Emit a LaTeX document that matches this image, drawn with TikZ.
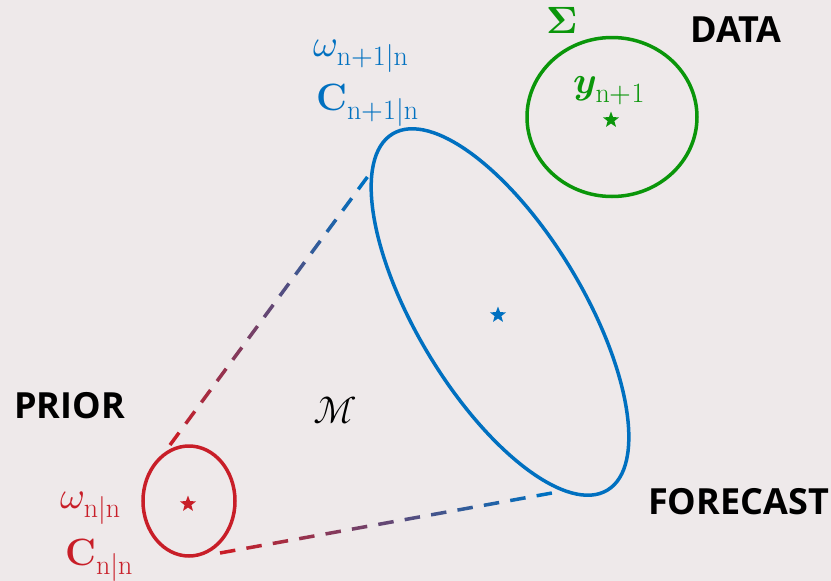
\documentclass[tikz,border=0pt]{standalone}
\usepackage{amsmath}
\usepackage{fontspec}
\usepackage{unicode-math}
\setmathfont{Latin Modern Math}
\DeclareMathSizes{38}{38}{28}{21}
\newfontfamily\headfont{Open Sans}
\usetikzlibrary{shapes.geometric,calc}

\definecolor{bgcol}{RGB}{238,233,234}
\definecolor{priorred}{RGB}{200,30,40}
\definecolor{fcblue}{RGB}{0,112,192}
\definecolor{datagreen}{RGB}{10,150,10}

\tikzset{
  region/.style = {draw, ellipse, line width=3.5pt, inner sep=0pt},
  centre/.style = {star, star points=5, star point ratio=2.4, fill, inner sep=0pt, minimum size=17pt},
  head/.style   = {font=\headfont\bfseries\fontsize{36}{40}\selectfont, anchor=base west, inner sep=0pt},
  mlabel/.style = {font=\fontsize{38}{42}\selectfont, anchor=base west, inner sep=0pt},
  dashline/.style = {line width=3.5pt}
}

\begin{document}
\begin{tikzpicture}[x=1pt,y=-1pt]
      \fill[bgcol] (0,0) rectangle (831,581);
      \useasboundingbox (0,0) rectangle (831,581);

      % Regions
      \node[region, priorred, minimum width=92pt, minimum height=110pt] (prior) at (189,501) {};
      \node[region, fcblue, minimum width=416pt, minimum height=166pt, rotate=-58.9] (forecast) at (500,312) {};
      \node[region, datagreen, minimum width=170pt, minimum height=159pt] (data) at (612,117) {};

      % Centres
      \node[centre, priorred] (priorstar) at (188,504) {};
      \node[centre, fcblue] (fcstar) at (498,315) {};
      \node[centre, datagreen] (datastar) at (611,120) {};

      % Labels
      \node[head] (priorlab) at (14,418) {PRIOR};
      \node[head] (datalab) at (690,42) {DATA};
      \node[head] (fclab) at (648,514) {FORECAST};
      \node[mlabel, priorred] (wprior) at (60,508) {$\omega_{\mathrm{n|n}}$};
      \node[mlabel, priorred] (cprior) at (65,565) {$\mathbf{C}_{\mathrm{n|n}}$};
      \node[mlabel, fcblue] (wfc) at (313,56) {$\omega_{\mathrm{n+1|n}}$};
      \node[mlabel, fcblue] (cfc) at (316,110) {$\mathbf{C}_{\mathrm{n+1|n}}$};
      \node[mlabel, datagreen] (ydata) at (573,93) {$\symbfit{y}_{\mathrm{n+1}}$};
      \node[mlabel, datagreen] (sigma) at (546,33) {$\symbf{\Sigma}$};
      \node[mlabel] (model) at (313,423) {$\mathcal{M}$};

      % Connectors
      \coordinate (p1) at (170,445);
      \coordinate (f1) at (374,168);
      \coordinate (p2) at (220,553);
      \coordinate (f2) at (563,491);
      \foreach \i in {0,...,12}{
        \pgfmathsetmacro\mix{100-\i*100/12}
        \draw[dashline, color=priorred!\mix!fcblue] ($(p1)!\i/13!(f1)$) -- ($(p1)!{(\i+0.58)/13}!(f1)$);
        \draw[dashline, color=priorred!\mix!fcblue] ($(p2)!\i/13!(f2)$) -- ($(p2)!{(\i+0.58)/13}!(f2)$);
      }
\end{tikzpicture}
\end{document}
